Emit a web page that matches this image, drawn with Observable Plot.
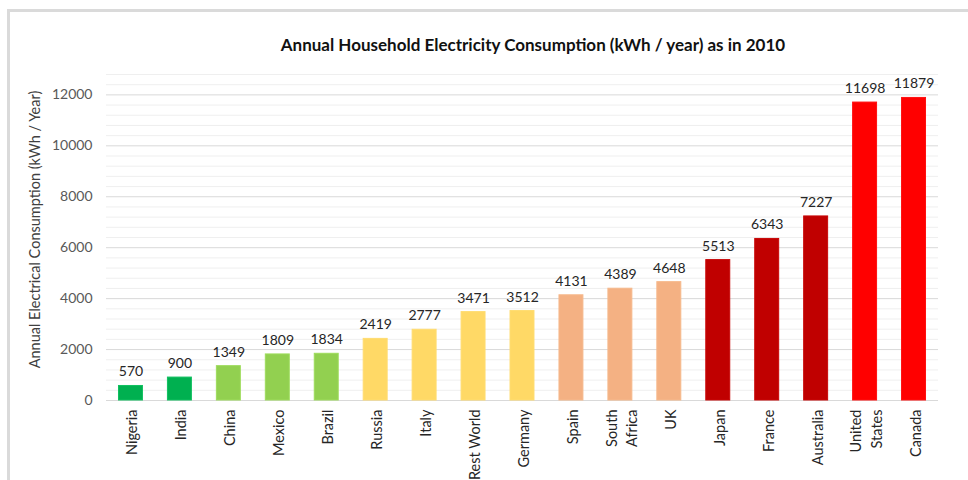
<!DOCTYPE html>
<html>
<head>
<meta charset="utf-8">
<script src="https://cdn.jsdelivr.net/npm/d3@7"></script>
<script src="https://cdn.jsdelivr.net/npm/@observablehq/plot@0.6"></script>
<style>
  html, body { margin: 0; padding: 0; background: #fff; }
  #frame {
    position: relative; width: 968px; height: 480px; overflow: hidden;
    font-family: Lato, "Noto Sans", sans-serif;
  }
  #border {
    position: absolute; left: 7px; top: 9px; right: -10px; bottom: -10px;
    border-top: 3px solid #dadada; border-left: 3px solid #dadada;
  }
  #title {
    position: absolute; left: 0; top: 34px; width: 1066px; text-align: center;
    font-weight: bold; font-size: 17px; color: #111;
  }
  #chart { position: absolute; left: 0; top: 0; }
</style>
</head>
<body>
<div id="frame">
  <div id="border"></div>
  <div id="chart"></div>
  <div id="title">Annual Household Electricity Consumption (kWh / year) as in 2010</div>
</div>
<script>
// Household electricity use per country, 2010 (kWh per year)
const countries = ["Nigeria", "India", "China", "Mexico", "Brazil", "Russia", "Italy",
  "Rest World", "Germany", "Spain", "South Africa", "UK", "Japan", "France",
  "Australia", "United States", "Canada"];
const tickLabels = ["Nigeria", "India", "China", "Mexico", "Brazil", "Russia", "Italy",
  "Rest World", "Germany", "Spain", "South\nAfrica", "UK", "Japan", "France",
  "Australia", "United\nStates", "Canada"];
const consumption = [570, 900, 1349, 1809, 1834, 2419, 2777, 3471, 3512, 4131, 4389,
  4648, 5513, 6343, 7227, 11698, 11879];
// consumption band each country belongs to (1 = lowest)
const tiers = [1, 1, 2, 2, 2, 3, 3, 3, 3, 4, 4, 4, 5, 5, 5, 6, 6];
const yTicks = [0, 2000, 4000, 6000, 8000, 10000, 12000];

const tierColors = {1: "#00b050", 2: "#92d050", 3: "#ffd966", 4: "#f4b183", 5: "#c00000", 6: "#ff0000"};
const tierStrokes = {1: "#10c060", 2: "#9edc5c", 3: "#ffdc70", 4: "#f6b98c", 5: "#c80808", 6: "#ff1010"};

const data = countries.map((c, i) => ({
  country: c, label: tickLabels[i], value: consumption[i], tier: tiers[i]
}));
const minorTicks = d3.range(0, 12801, 400).filter(v => v % 2000 !== 0);

const chart = Plot.plot({
  width: 968,
  height: 480,
  marginLeft: 106,
  marginRight: 30,
  marginTop: 74,
  marginBottom: 80,
  style: { fontFamily: "Lato, 'Noto Sans', sans-serif", background: "transparent" },
  x: { domain: countries, paddingInner: 0.49, paddingOuter: 0.245, round: false, axis: null },
  y: { domain: [0, 12800], axis: null },
  marks: [
    Plot.ruleY(minorTicks, { stroke: "#efefef", strokeWidth: 1 }),
    Plot.ruleY(yTicks, { stroke: "#d9d9d9", strokeWidth: 1 }),
    Plot.axisY({ ticks: yTicks, tickFormat: "d", tickSize: 0, tickPadding: 14, label: null,
      fontSize: 14, color: "#595959" }),
    Plot.barY(data, {
      x: "country", y: "value",
      fill: d => tierColors[d.tier], stroke: d => tierStrokes[d.tier], strokeWidth: 1,
      insetLeft: 0.5, insetRight: 0.5
    }),
    Plot.text(data, {
      x: "country", y: "value", text: d => String(d.value),
      dy: -14, fontSize: 14, fill: "#262626"
    }),
    Plot.text(data, {
      x: "country", y: 0, text: "label", frameAnchor: "bottom",
      rotate: -90, textAnchor: "end", lineAnchor: "middle",
      dy: 9, fontSize: 14.5, fill: "#262626", lineHeight: 1.4
    }),
    Plot.text(["Annual Electrical Consumption (kWh / Year)"], {
      frameAnchor: "left", textAnchor: "middle", rotate: -90, dx: -71, dy: -8,
      fontSize: 14.5, fill: "#404040"
    })
  ]
});
document.getElementById("chart").appendChild(chart);
</script>
</body>
</html>
